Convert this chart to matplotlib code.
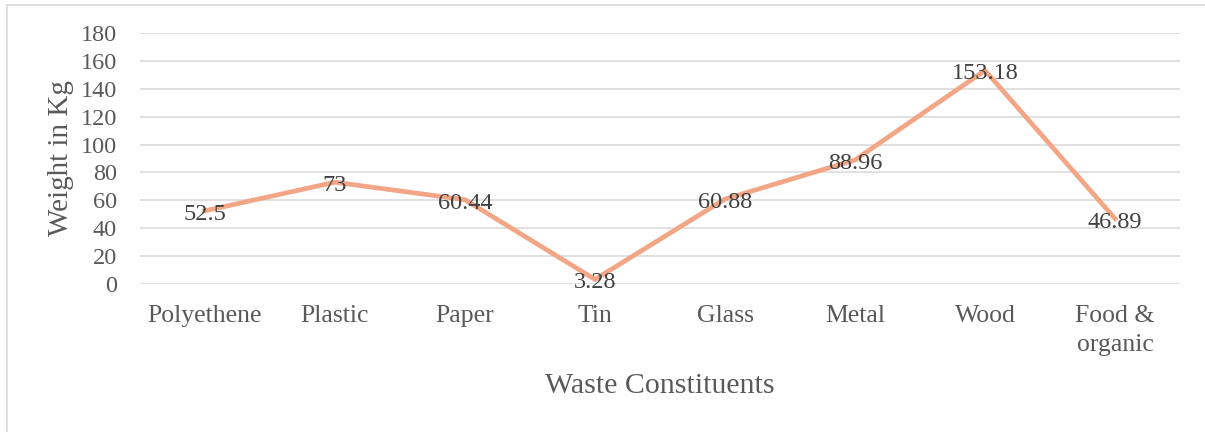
import matplotlib.pyplot as plt
from matplotlib.lines import Line2D

categories = ["Polyethene", "Plastic", "Paper", "Tin", "Glass", "Metal", "Wood", "Food &\norganic"]
weights = [52.5, 73, 60.44, 3.28, 60.88, 88.96, 153.18, 46.89]
value_labels = ["52.5", "73", "60.44", "3.28", "60.88", "88.96", "153.18", "46.89"]
yticks = [0, 20, 40, 60, 80, 100, 120, 140, 160, 180]

plt.rcParams.update({
    "font.family": ["Liberation Serif", "DejaVu Serif"],
})

W, H = 1205, 432
fig = plt.figure(figsize=(W / 100, H / 100), dpi=100)
ax = fig.add_axes([140 / W, 1 - 284 / H, 1040 / W, 251 / H])

x = list(range(len(categories)))
ax.plot(x, weights, color="#F2A686", linewidth=3.4, solid_joinstyle="miter", zorder=3)

for xi, yi, lab in zip(x, weights, value_labels):
    ax.annotate(lab, (xi, yi), xytext=(0, -2.5), textcoords="offset points",
                ha="center", va="center", fontsize=17.5, color="#404040", zorder=4)

ax.set_xlim(-0.5, len(categories) - 0.5)
ax.set_ylim(0, 180)
ax.set_yticks(yticks)
ax.set_xticks(x)
ax.set_xticklabels(categories, fontsize=18.5, color="#595959", linespacing=1.45, va="top")
ax.tick_params(axis="y", labelsize=17.5, labelcolor="#595959", length=0, pad=16.5)
ax.tick_params(axis="x", length=0, pad=15)

ax.grid(axis="y", color="#D9D9D9", linewidth=1.1)
ax.set_axisbelow(True)
for s in ax.spines.values():
    s.set_visible(False)

ax.set_xlabel("Waste Constituents", fontsize=21.5, color="#595959")
ax.set_ylabel("Weight in Kg", fontsize=21, color="#595959")
ax.yaxis.set_label_coords(-(140 - 74) / 1040, 0.5)
ax.xaxis.set_label_coords(0.5, -(373 - 284) / 251)

# chart area border (left and top visible)
fig.add_artist(Line2D([7.5 / W, 7.5 / W], [0, 1 - 4.5 / H], color="#D9D9D9", linewidth=1.2))
fig.add_artist(Line2D([7.5 / W, 1], [1 - 4.5 / H, 1 - 4.5 / H], color="#D9D9D9", linewidth=1.2))

fig.savefig("out.png", dpi=100)
